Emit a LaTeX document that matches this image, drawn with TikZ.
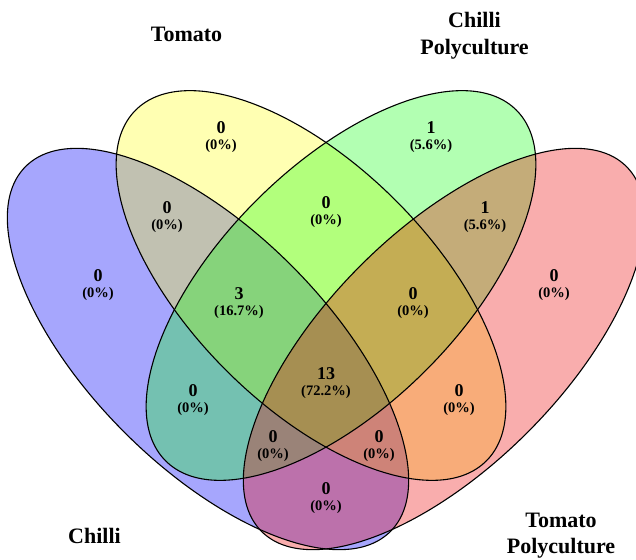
\documentclass[tikz,border=0pt]{standalone}
\usepackage{fontspec}
\setmainfont{Liberation Serif}
\begin{document}
\begin{tikzpicture}[x=1pt,y=1pt,
  setline/.style={draw=black,line width=1.1pt},
  numtxt/.style={inner sep=0pt,anchor=base,font=\fontsize{18}{20}\selectfont\bfseries},
  pcttxt/.style={inner sep=0pt,anchor=base,font=\fontsize{14.5}{16}\selectfont\bfseries},
  cattxt/.style={inner sep=0pt,anchor=base,font=\fontsize{22}{26}\selectfont\bfseries}]
\useasboundingbox (0,0) rectangle (636,559);
\clip (0,0) rectangle (636,559);
\definecolor{cblue}{RGB}{0,0,250}
\definecolor{cyellow}{RGB}{255,255,0}
\definecolor{cgreen}{RGB}{0,255,0}
\definecolor{cred}{RGB}{235,0,0}
\tikzset{
  blueell/.style={rotate around={-45:(208,210)}},
  redell/.style={rotate around={45:(444,210)}},
  yelell/.style={rotate around={-45:(311,273.5)}},
  grnell/.style={rotate around={45:(341,273.5)}}}
% fills
\fill[cblue,opacity=0.35,blueell] (208,210) ellipse [x radius=258,y radius=118];
\fill[cyellow,opacity=0.3,yelell] (311,273.5) ellipse [x radius=248,y radius=120];
\fill[cgreen,opacity=0.3,grnell] (341,273.5) ellipse [x radius=248,y radius=120];
\fill[cred,opacity=0.32,redell] (444,210) ellipse [x radius=258,y radius=118];
% outlines
\draw[setline,blueell] (208,210) ellipse [x radius=258,y radius=118];
\draw[setline,yelell] (311,273.5) ellipse [x radius=248,y radius=120];
\draw[setline,grnell] (341,273.5) ellipse [x radius=248,y radius=120];
\draw[setline,redell] (444,210) ellipse [x radius=258,y radius=118];
% category labels
\node[cattxt] (lTom) at (186.5,517) {Tomato};
\node[cattxt] (lCP1) at (474.5,531) {Chilli};
\node[cattxt] (lCP2) at (474.5,504) {Polyculture};
\node[cattxt] (lChi) at (94.5,16) {Chilli};
\node[cattxt] (lTP1) at (561,32) {Tomato};
\node[cattxt] (lTP2) at (561,6) {Polyculture};
% counts
\newcommand{\vcount}[5]{%
  \node[numtxt] (#1n) at (#2,#3) {#4};
  \node[pcttxt] (#1p) at (#2,#3-16) {#5};}
\vcount{b}{98}{277}{0}{(0\%)}
\vcount{y}{221}{425.5}{0}{(0\%)}
\vcount{g}{431}{425.5}{1}{(5.6\%)}
\vcount{r}{554}{277}{0}{(0\%)}
\vcount{by}{167}{345.5}{0}{(0\%)}
\vcount{yg}{326}{350}{0}{(0\%)}
\vcount{gr}{485}{345.5}{1}{(5.6\%)}
\vcount{byg}{239}{259}{3}{(16.7\%)}
\vcount{ygr}{413}{259}{0}{(0\%)}
\vcount{all}{326}{179}{13}{(72.2\%)}
\vcount{bg}{193}{162}{0}{(0\%)}
\vcount{yr}{459}{162}{0}{(0\%)}
\vcount{bgr}{273}{116}{0}{(0\%)}
\vcount{byr}{379}{116}{0}{(0\%)}
\vcount{br}{326}{65}{0}{(0\%)}
\end{tikzpicture}
\end{document}
